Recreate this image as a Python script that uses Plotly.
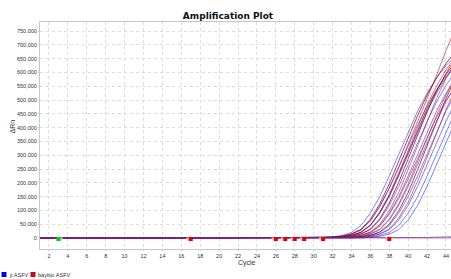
import plotly.graph_objects as go

# ---------------- data (ΔRn in thousands) ----------------
cycles = list(range(1, 46))
baseline_1_29 = [0, 0, 0, 0, 0, 0, 0, 0, 0, 0, 0, 0, 0, 0, 0, 0, 0, 0, 0, 0,
                 0, 0, 0, 0, 0, 0, 0, 0, 0]

# cycles 30..45
ji_tails = [
    [1, 2, 4, 9, 20, 45, 90, 150, 225, 305, 385, 460, 525, 580, 625, 660],
    [0.7, 1.5, 3, 6, 14, 30, 63, 114, 181, 257, 335, 410, 478, 536, 585, 624],
    [0.5, 1, 2, 4, 9, 20, 45, 90, 150, 225, 305, 385, 460, 525, 580, 625],
    [0, 0.7, 1.5, 3, 6, 14, 30, 65, 118, 187, 265, 345, 423, 493, 553, 603],
    [0, 0, 1, 2, 4, 9, 20, 45, 90, 150, 225, 305, 385, 460, 525, 580],
    [0, 0, 0, 1.5, 3, 6, 14, 30, 65, 118, 187, 265, 345, 423, 493, 553],
    [0, 0, 0, 0, 2, 4, 9, 20, 45, 90, 150, 225, 305, 385, 460, 525],
    [0, 0, 0, 0, 1.5, 3, 6, 14, 30, 65, 118, 187, 265, 345, 423, 493],
    [0, 0, 0, 0, 0, 2, 4, 9, 20, 45, 90, 150, 225, 305, 385, 460],
    [0, 0, 0, 0, 0, 0, 3, 6, 14, 30, 65, 118, 187, 265, 345, 423],
    [0, 0, 0, 0, 0, 0, 0, 0, 0, 0, 0, 0, 2, 3, 4, 5],
]
baybio_tails = [
    [1, 2, 3, 6, 13, 28, 62, 115, 180, 255, 340, 420, 505, 590, 680, 760],
    [1, 1.5, 3, 6, 15, 31, 68, 124, 196, 278, 362, 444, 518, 581, 633, 675],
    [0.5, 1, 2, 4, 9, 21, 47, 95, 158, 236, 320, 404, 483, 551, 609, 656],
    [0, 1, 2, 3, 6, 15, 32, 70, 127, 202, 286, 373, 457, 532, 597, 651],
    [0, 0, 1, 2, 4, 10, 22, 50, 99, 165, 248, 336, 424, 506, 578, 638],
    [0, 0, 0, 2, 3, 6, 15, 32, 68, 124, 196, 278, 362, 444, 518, 581],
    [0, 0, 0, 0, 2, 4, 10, 22, 50, 99, 165, 248, 336, 424, 506, 578],
    [0, 1, 2, 4, 9, 20, 46, 92, 153, 230, 311, 393, 469, 536, 592, 638],
    [0, 0, 0, 0, 0, 3, 7, 15, 33, 72, 130, 206, 292, 380, 465, 542],
    [0, 0, 1, 2, 4, 9, 19, 43, 86, 143, 214, 290, 366, 437, 499, 551],
    [0, 0, 0, 0, 0, 0, 0, 0, 0, 0, 0, 0, 0, 0, 0, 0],
]
baybio_dark = [False, True, False, True, False, False, True, True, False, False, False]

red_marker_cycles = [17, 26, 27, 28, 29, 31, 38]
green_marker_cycles = [3]
marker_level = [-4]  # thousands

x_tick_vals = list(range(2, 45, 2))
y_tick_vals = list(range(0, 750001, 50000))

series_names = ["ji ASFV", "baybio ASFV"]

# ---------------- figure ----------------
W, H = 451, 279
L, R, T, B = 40, 0, 22, 30
PW, PH = W - L - R, H - T - B

def px_x(p):
    return (p - L) / PW

def px_y(p):
    return (H - B - p) / PH

BLUE = "rgba(40,40,240,0.65)"
RED = "rgba(190,30,40,0.7)"
DARKRED = "rgba(130,0,25,0.8)"

fig = go.Figure()

n = max(len(ji_tails), len(baybio_tails))
for i in range(n):
    if i < len(ji_tails):
        y = [v * 1000 for v in baseline_1_29 + ji_tails[i]]
        fig.add_trace(go.Scatter(x=cycles, y=y, mode="lines",
                                 line=dict(color=BLUE, width=0.9),
                                 showlegend=False, hoverinfo="skip"))
    if i < len(baybio_tails):
        y = [v * 1000 for v in baseline_1_29 + baybio_tails[i]]
        fig.add_trace(go.Scatter(x=cycles, y=y, mode="lines",
                                 line=dict(color=DARKRED if baybio_dark[i] else RED, width=0.9),
                                 showlegend=False, hoverinfo="skip"))

# baseline markers (grey companion square + coloured square)
fig.add_trace(go.Scatter(x=[c - 0.3 for c in red_marker_cycles],
                         y=[marker_level[0] * 1000] * len(red_marker_cycles),
                         mode="markers", marker=dict(symbol="square", size=3, color="#d0d0d0"),
                         showlegend=False, hoverinfo="skip"))
fig.add_trace(go.Scatter(x=red_marker_cycles,
                         y=[marker_level[0] * 1000] * len(red_marker_cycles),
                         mode="markers", marker=dict(symbol="square", size=4, color="#e00000"),
                         showlegend=False, hoverinfo="skip"))
fig.add_trace(go.Scatter(x=[c + 0.3 for c in green_marker_cycles],
                         y=[marker_level[0] * 1000] * len(green_marker_cycles),
                         mode="markers", marker=dict(symbol="square", size=3, color="#d0d0d0"),
                         showlegend=False, hoverinfo="skip"))
fig.add_trace(go.Scatter(x=green_marker_cycles,
                         y=[marker_level[0] * 1000] * len(green_marker_cycles),
                         mode="markers", marker=dict(symbol="square", size=4, color="#00d000"),
                         showlegend=False, hoverinfo="skip"))

axis_common = dict(showline=True, linecolor="#c8c8c8", linewidth=1, mirror=True,
                   showgrid=True, gridcolor="#dcdcdc", griddash="dot", gridwidth=1,
                   zeroline=False, ticks="outside", ticklen=1, tickcolor="#c8c8c8",
                   automargin=False,
                   tickfont=dict(family="Liberation Sans, Arial", size=5.5, color="#333"))

fig.update_xaxes(range=[1.05, 44.53], tickmode="array", tickvals=x_tick_vals, **axis_common)
fig.update_yaxes(range=[-40000, 783000], tickmode="array", tickvals=y_tick_vals,
                 tickformat=",d", **axis_common)

annotations = [
    dict(text="ΔRn", x=px_x(11.5), y=px_y(127), xref="paper", yref="paper",
         xanchor="center", yanchor="middle",
         textangle=-90, showarrow=False,
         font=dict(family="Liberation Sans, Arial", size=7, color="#333")),
    dict(text="Cycle", x=px_x(246.5), y=px_y(262.5), xref="paper", yref="paper",
         xanchor="center", yanchor="middle",
         showarrow=False, font=dict(family="Liberation Sans, Arial", size=7, color="#333")),
    dict(text=series_names[0], x=px_x(7), y=px_y(274.5), xref="paper", yref="paper",
         xanchor="left", yanchor="middle", showarrow=False,
         font=dict(family="Liberation Sans, Arial", size=5.6, color="#333")),
    dict(text=series_names[1], x=px_x(35.5), y=px_y(274.5), xref="paper", yref="paper",
         xanchor="left", yanchor="middle", showarrow=False,
         font=dict(family="Liberation Sans, Arial", size=5.6, color="#333")),
]
shapes = [
    dict(type="rect", xref="paper", yref="paper", x0=px_x(1.5), x1=px_x(6.5),
         y0=px_y(277), y1=px_y(272), fillcolor="#0000f0", line=dict(width=0)),
    dict(type="rect", xref="paper", yref="paper", x0=px_x(30.5), x1=px_x(35.5),
         y0=px_y(277), y1=px_y(272), fillcolor="#b8101c", line=dict(width=0)),
]

fig.update_layout(
    width=W, height=H,
    margin=dict(l=L, r=R, t=T, b=B, autoexpand=False),
    paper_bgcolor="white", plot_bgcolor="white",
    title=dict(text="<b>Amplification Plot</b>", x=228 / W, xanchor="center",
               y=1 - 15.5 / H, yanchor="middle", xref="container", yref="container",
               font=dict(family="DejaVu Sans", size=9, color="#111")),
    annotations=annotations, shapes=shapes,
    showlegend=False,
)

fig.write_html("out.html",
               config={"displayModeBar": False},
               post_script="document.body.style.margin='0';"
                           "document.body.style.overflow='hidden';")
